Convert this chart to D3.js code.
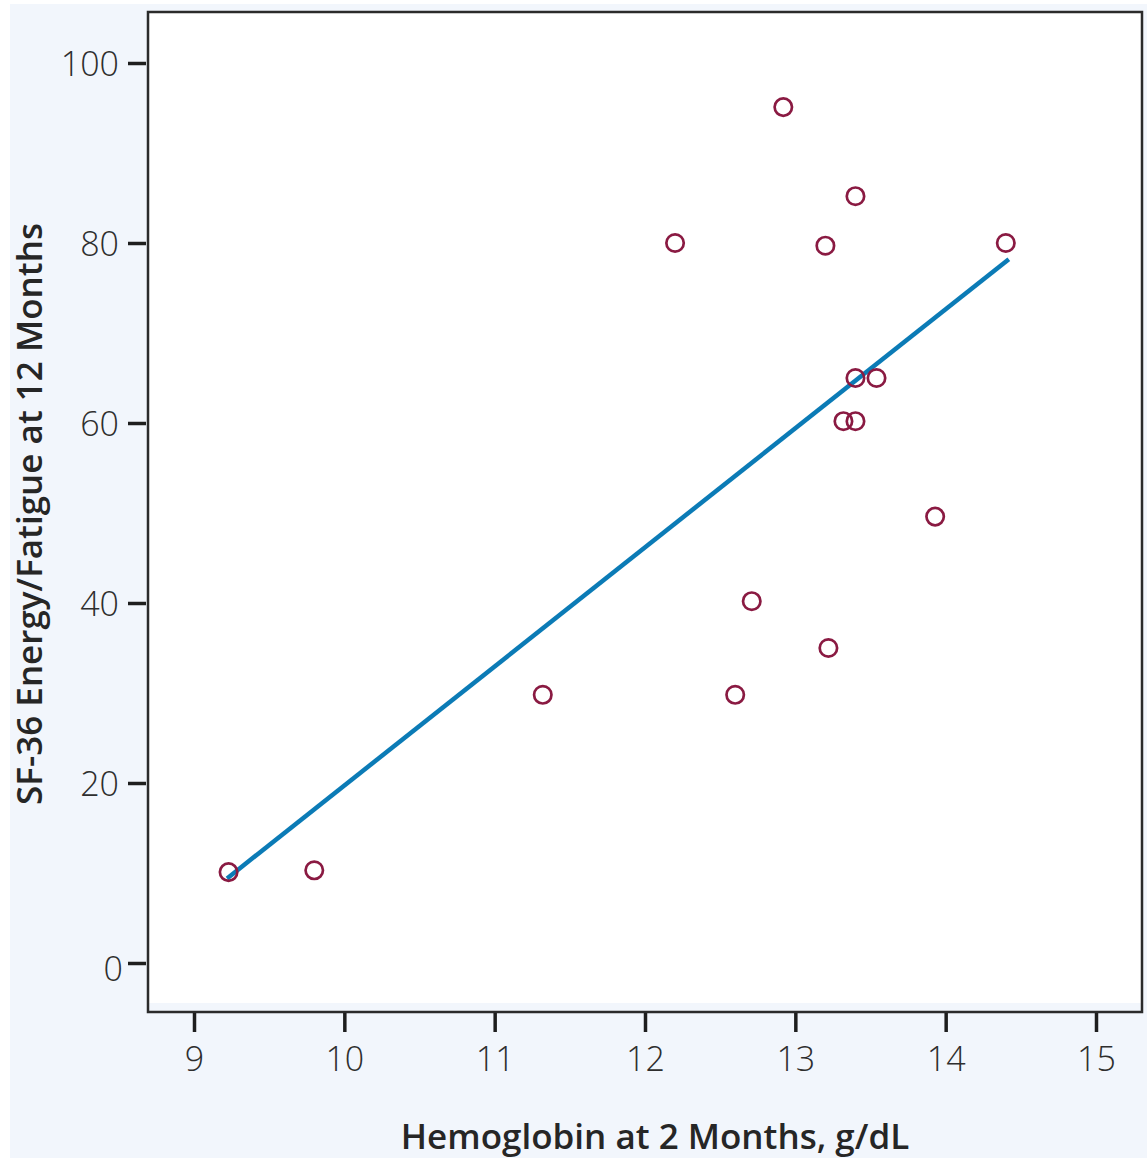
<!DOCTYPE html>
<meta charset="utf-8">
<style>
  body { margin: 0; background: #fff; }
  text { font-family: "Open Sans", sans-serif; }
</style>
<svg width="1147" height="1158"></svg>
<script src="https://d3js.org/d3.v7.min.js"></script>
<script>
    // data
    var hemoglobin = [9.23, 9.80, 11.32, 12.20, 12.60, 12.71, 12.92, 13.20, 13.22, 13.40, 13.40, 13.54, 13.32, 13.40, 13.93, 14.40];
    var fatigue    = [10.1, 10.3, 29.8, 80.0, 29.8, 40.2, 95.1, 79.7, 35.0, 85.2, 65.0, 65.0, 60.2, 60.2, 49.6, 80.0];
    var fitX = [9.22, 14.42];
    var fitY = [9.4, 78.2];
    var xTicks = [9, 10, 11, 12, 13, 14, 15];
    var yTicks = [0, 20, 40, 60, 80, 100];
    var xTitle = "Hemoglobin at 2 Months, g/dL";
    var yTitle = "SF-36 Energy/Fatigue at 12 Months";
</script>
<script>
    var svg = d3.select("svg");

    // light blue panel
    svg.append("rect").attr("x", 10).attr("y", 4).attr("width", 1137).attr("height", 1154).attr("fill", "#f2f6fc");

    var plotL = 148, plotT = 12, plotR = 1142, plotB = 1012;
    svg.append("rect").attr("x", plotL).attr("y", plotT).attr("width", plotR - plotL).attr("height", 991)
        .attr("fill", "#fff");
    svg.append("rect").attr("x", plotL).attr("y", plotT).attr("width", plotR - plotL).attr("height", plotB - plotT)
        .attr("fill", "none").attr("stroke", "#2b2b2b").attr("stroke-width", 2.5);

    var x = d3.scaleLinear().domain([9, 15]).range([194, 1096]);
    var y = d3.scaleLinear().domain([0, 100]).range([963, 63]);

    var yAxis = svg.append("g").attr("transform", "translate(" + (plotL - 2) + ",0)")
        .call(d3.axisLeft(y).tickValues(yTicks).tickFormat(d3.format("d")).tickSize(18).tickPadding(9));
    var xAxis = svg.append("g").attr("transform", "translate(0," + (plotB + 1) + ")")
        .call(d3.axisBottom(x).tickValues(xTicks).tickFormat(d3.format("d")).tickSize(19).tickPadding(15));
    [xAxis, yAxis].forEach(function (g) {
        g.select(".domain").remove();
        g.selectAll(".tick line").attr("stroke", "#1e1e1e").attr("stroke-width", 3.5);
        g.selectAll(".tick text").attr("fill", "#2e2e2e").style("font-size", "34px").style("font-weight", 300);
    });
    yAxis.selectAll(".tick text").attr("dy", "0.38em");
    yAxis.selectAll(".tick").filter(function (d) { return d === 0; }).select("text").attr("x", -23).attr("dy", "0.5em");

    // regression line
    svg.append("line")
        .attr("x1", x(fitX[0])).attr("y1", y(fitY[0]))
        .attr("x2", x(fitX[1])).attr("y2", y(fitY[1]))
        .attr("stroke", "#0b7bb6").attr("stroke-width", 4.5);

    svg.selectAll("circle.pt")
        .data(d3.range(hemoglobin.length))
        .enter()
        .append("circle")
        .attr("class", "pt")
        .attr("cx", function (i) { return x(hemoglobin[i]); })
        .attr("cy", function (i) { return y(fatigue[i]); })
        .attr("r", 8.7)
        .attr("fill", "none")
        .attr("stroke", "#8a1a42")
        .attr("stroke-width", 2.7);

    svg.append("text").attr("x", 655).attr("y", 1149).attr("text-anchor", "middle")
        .attr("fill", "#262626").style("font-size", "35px").style("font-weight", 600).text(xTitle);
    svg.append("text").attr("transform", "translate(42,514) rotate(-90)").attr("text-anchor", "middle")
        .attr("fill", "#262626").style("font-size", "35px").style("font-weight", 600).text(yTitle);
</script>
